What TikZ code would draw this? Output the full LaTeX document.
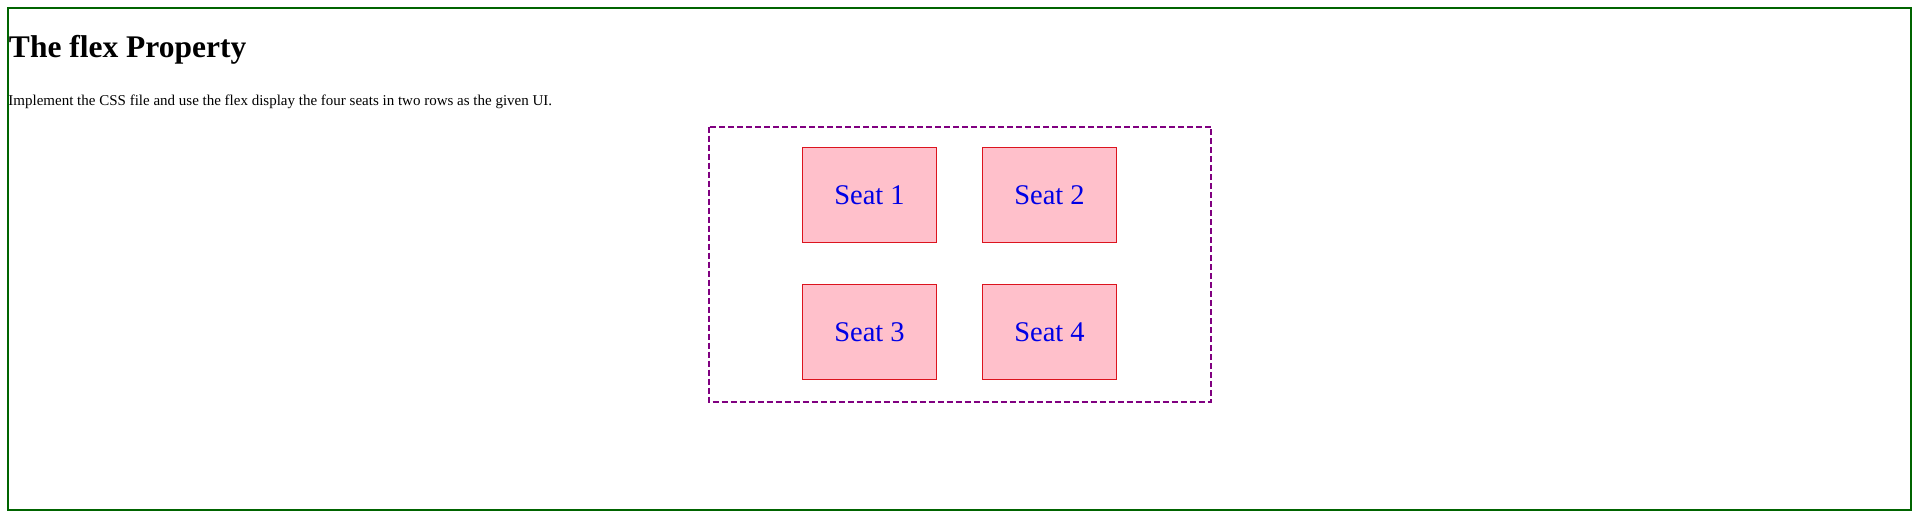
\documentclass[tikz,border=0pt]{standalone}
\usepackage{fontspec}
\setmainfont{Liberation Serif}
\usetikzlibrary{positioning}

\definecolor{frame}{RGB}{0,100,0}
\definecolor{wrap}{RGB}{128,0,128}
\definecolor{seatfill}{RGB}{255,192,203}
\definecolor{seatline}{RGB}{220,20,30}
\definecolor{seattext}{RGB}{0,0,230}

\begin{document}
\begin{tikzpicture}[x=1pt, y=1pt,
      every node/.append style={inner sep=0pt, outer sep=0pt},
      seat/.style={draw=seatline, line width=1pt, fill=seatfill,
                   minimum width=134pt, minimum height=95pt,
                   text=seattext, font=\fontsize{28.5}{31}\selectfont},
      txt/.style={anchor=base west}]

     \useasboundingbox (0,0) rectangle (1919,-520);
     \draw[frame, line width=2pt] (7.5,-7.5) rectangle (1910.5,-509.5);

     \node [txt, font=\fontsize{31.5}{34}\selectfont\bfseries] (title) at (9,-57) {The flex Property};
     \node [txt, font=\fontsize{15}{17}\selectfont] (intro) at (8.5,-105) {Implement the CSS file and use the flex display the four seats in two rows as the given UI.};

     \draw[wrap, line width=2pt, dash pattern=on 6pt off 3pt] (708.5,-126.5) rectangle (1211,-401.5);

     \node [seat] (s1) at (869.5,-195)   {Seat 1};
     \node [seat, right=46pt of s1] (s2) {Seat 2};
     \node [seat, below=42pt of s1] (s3) {Seat 3};
     \node [seat, below=42pt of s2] (s4) {Seat 4};
\end{tikzpicture}
\end{document}
